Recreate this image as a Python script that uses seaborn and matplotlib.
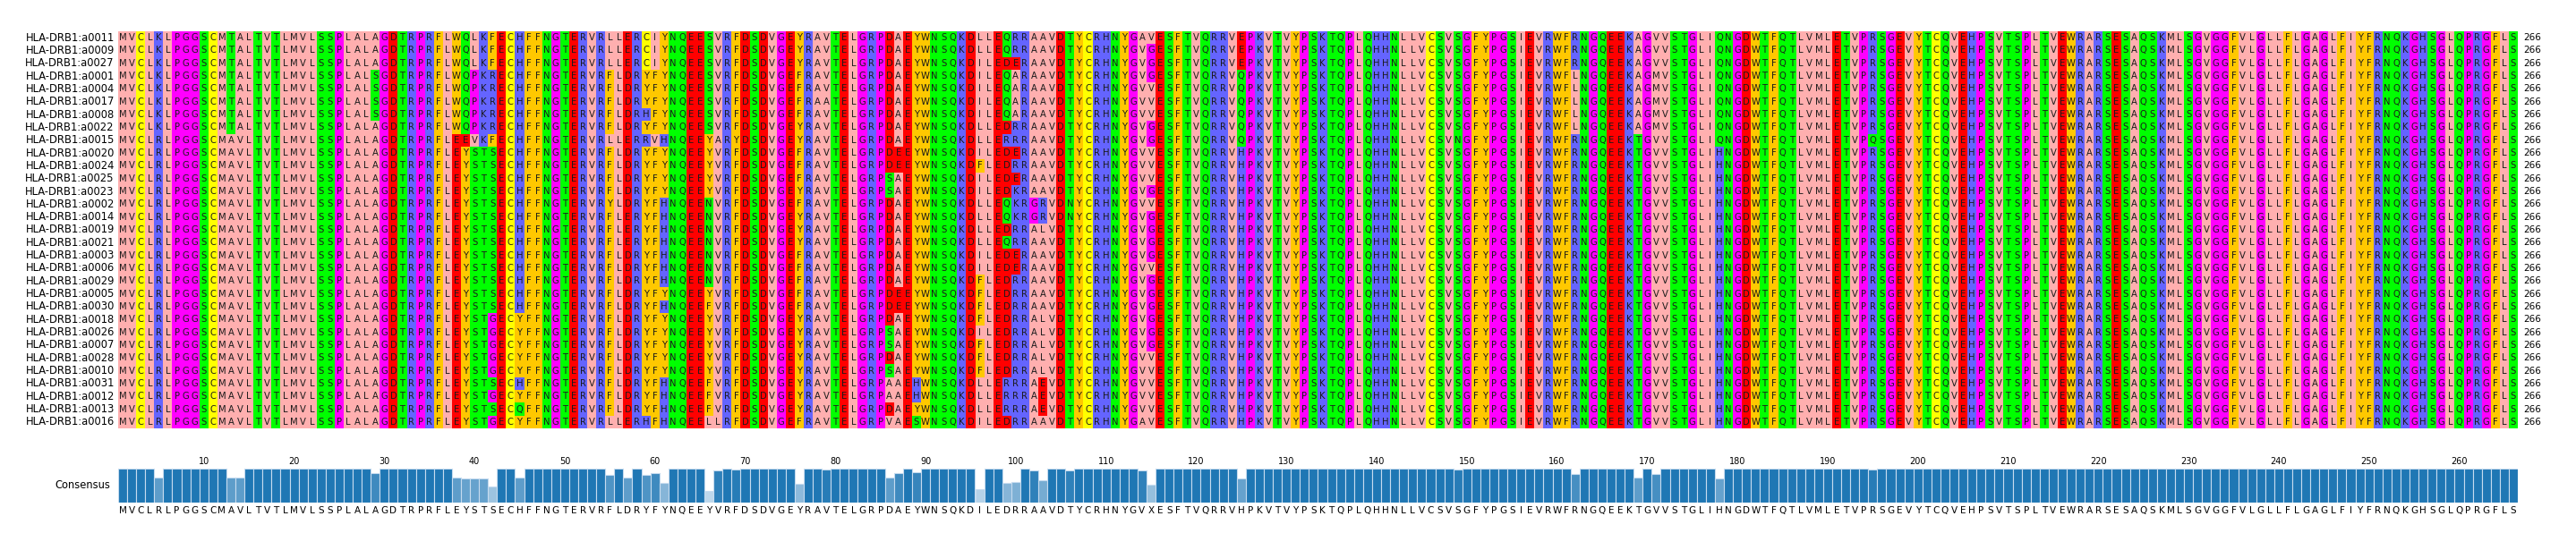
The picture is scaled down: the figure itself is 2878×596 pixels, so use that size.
import numpy as np
import pandas as pd
import matplotlib
matplotlib.use("Agg")
import matplotlib.pyplot as plt
import seaborn as sns
from matplotlib.colors import ListedColormap

consensus = ("MVCLRLPGGSCMAVLTVTLMVLSSPLALAGDTRPRFLEYSTSECHFFNGTERVRFLDRYFYNQEEYVR"
             "FDSDVGEYRAVTELGRPDAEYWNSQKDILEDRRAAVDTYCRHNYGVXESFTVQRRVHPKVTVYPSKT"
             "QPLQHHNLLVCSVSGFYPGSIEVRWFRNGQEEKTGVVSTGLIHNGDWTFQTLVMLETVPRSGEVYTCQ"
             "VEHPSVTSPLTVEWRARSESAQSKMLSGVGGFVLGLLFLGAGLFIYFRNQKGHSGLQPRGFLS")

names = ["HLA-DRB1:a0011", "HLA-DRB1:a0009", "HLA-DRB1:a0027", "HLA-DRB1:a0001",
         "HLA-DRB1:a0004", "HLA-DRB1:a0017", "HLA-DRB1:a0008", "HLA-DRB1:a0022",
         "HLA-DRB1:a0015", "HLA-DRB1:a0020", "HLA-DRB1:a0024", "HLA-DRB1:a0025",
         "HLA-DRB1:a0023", "HLA-DRB1:a0002", "HLA-DRB1:a0014", "HLA-DRB1:a0019",
         "HLA-DRB1:a0021", "HLA-DRB1:a0003", "HLA-DRB1:a0006", "HLA-DRB1:a0029",
         "HLA-DRB1:a0005", "HLA-DRB1:a0030", "HLA-DRB1:a0018", "HLA-DRB1:a0026",
         "HLA-DRB1:a0007", "HLA-DRB1:a0028", "HLA-DRB1:a0010", "HLA-DRB1:a0031",
         "HLA-DRB1:a0012", "HLA-DRB1:a0013", "HLA-DRB1:a0016"]

# substitutions relative to consensus (1-based position + residue)
grpA = "5K 13T 14A 38W 39Q 40L 41K 42F 55L 57E 59C 60I 66S 125E 169A 171V 178Q"
grpB = "5K 13T 14A 38W 39Q 40P 41K 42R 66S 76F 99Q 100A 125Q 162L 169A 171M 178Q"
mutations = [
    grpA + " 96L 99Q 114A 115V",
    grpA + " 96L 99Q 115G",
    grpA + " 99D 100E 115G",
    grpB + " 29S 115G",
    grpB + " 29S 115V",
    grpB + " 29S 79A 115V",
    grpB + " 29S 59H 115V",
    "5K 13T 14A 38W 39Q 40P 41K 42R 66S 96L 115G 125Q 162L 169A 171M 178Q",
    "38E 39E 40V 41K 42F 55L 57E 59R 60V 61H 67A 69Y 96L 99R 115G 125Q 149N 169T 178Q 195Q",
    "76F 87E 100E 115V",
    "76F 87E 96F 115V",
    "76F 86S 100E 115V",
    "86S 100K 115G",
    "55Y 61H 66N 76F 96L 99Q 100K 102G 103R 106N 115V",
    "57E 61H 66N 96L 99Q 100K 102G 103R 106N 115G",
    "57E 61H 66N 96L 103L 115G",
    "57E 61H 66N 96L 99Q 115G",
    "61H 66N 76F 100E 115G",
    "61H 66N 76F 100E 115V",
    "61H 66N 76F 96F 115G",
    "76F 87E 96F 115G",
    "61H 66F 76F 87E 96F 115G",
    "42G 45Y 96F 103L 115G",
    "42G 45Y 86S 103L 115G",
    "42G 45Y 86S 96F 103L 115G",
    "42G 45Y 96F 103L 115V",
    "42G 45Y 86S 96F 103L 115V",
    "61H 66F 86A 89H 96L 99R 103E 115V",
    "42G 45Y 61H 66F 86A 89H 96L 99R 103E 115V",
    "45Q 61H 66F 96L 99R 103E 115V",
    "42G 45Y 55L 57E 59H 61H 66L 67L 76F 86V 89S 114A 115V",
]

# residue colour classes
class_members = ["AVLIM", "C", "KRH", "PG", "STNQ", "DE", "FYW", "X-"]
class_colors = ["#ffafaf", "#ffff00", "#6464ff", "#ff00ff", "#00ff00", "#ff0000", "#ffc800", "#ffffff"]

def build(mut):
    s = list(consensus)
    for tok in mut.split():
        pos, aa = int(tok[:-1]), tok[-1]
        s[pos - 1] = aa
    return s

seqs = [build(m) for m in mutations]
res_class = {a: i for i, grp in enumerate(class_members) for a in grp}
L = len(consensus)
letters = np.array(seqs)
codes = np.vectorize(lambda a: res_class.get(a, 7))(letters)
df = pd.DataFrame(codes, index=names, columns=range(1, L + 1))

# conservation = fraction of most common residue per column
cons_frac = np.array([pd.Series(letters[:, j]).value_counts().iloc[0] / len(names) for j in range(L)])

W, H = 2878, 596
fig = plt.figure(figsize=(W / 100, H / 100), dpi=100)
x0, x1 = 132 / W, 2813 / W
ax = fig.add_axes([x0, 1 - 479 / H, x1 - x0, 444 / H])
sns.heatmap(df, ax=ax, cmap=ListedColormap(class_colors), vmin=-0.5, vmax=7.5, cbar=False,
            annot=letters, fmt="", annot_kws={"fontsize": 7.2, "color": "#1a1a1a"},
            xticklabels=False, yticklabels=names)
ax.tick_params(axis="y", length=0, labelsize=8.3, pad=3)
ax.set_xlabel("")
ax.set_ylabel("")
for i in range(len(names)):
    ax.text(L + 0.6, i + 0.5, str(int((letters[i] != "-").sum())), ha="left", va="center", fontsize=7.5)

# consensus bars
bx = fig.add_axes([x0, 1 - 562 / H, x1 - x0, 38 / H])
cmap = sns.blend_palette(["#d6e6f4", "#1f77b4"], as_cmap=True)
cols = [cmap((f - 0.25) / 0.75) for f in cons_frac]
bx.bar(np.arange(L) + 0.5, cons_frac, width=1.0, color=cols, edgecolor="#c6dbef", linewidth=0.8)
bx.set_xlim(0, L)
bx.set_ylim(0, 1.0)
bx.set_yticks([])
for sp in bx.spines.values():
    sp.set_visible(False)
bx.set_xticks(np.arange(L) + 0.5)
bx.set_xticklabels(list(consensus), fontsize=7.5)
bx.tick_params(axis="x", length=0, pad=3)
tx = bx.secondary_xaxis("top")
tx.set_xticks(np.arange(10, L + 1, 10) - 0.5)
tx.set_xticklabels([str(v) for v in range(10, L + 1, 10)], fontsize=7)
tx.tick_params(length=0, pad=2)
tx.spines["top"].set_visible(False)
bx.set_ylabel("Consensus", rotation=0, ha="right", va="center", fontsize=8.3, labelpad=6)

fig.savefig("out.png", dpi=100)
